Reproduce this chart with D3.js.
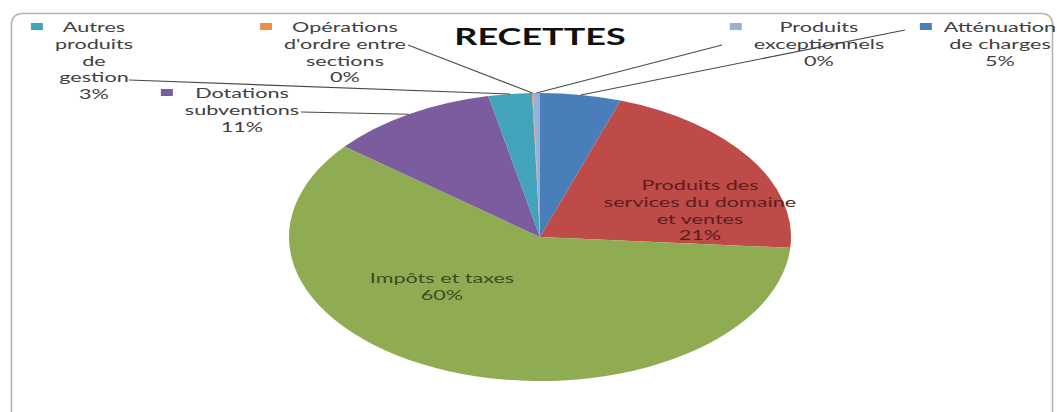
<!DOCTYPE html>
<html>
<head>
<meta charset="utf-8">
<script src="https://cdn.jsdelivr.net/npm/d3@7/dist/d3.min.js"></script>
<style>
  html, body { margin: 0; padding: 0; background: #fff; }
  svg { display: block; }
</style>
</head>
<body>
<svg id="chart" width="1057" height="412"></svg>
<script>
// ---- data ----
const title = "RECETTES";
const categories = [
  "Atténuation de charges",
  "Produits des services du domaine et ventes",
  "Impôts et taxes",
  "Dotations subventions",
  "Autres produits de gestion",
  "Opérations d'ordre entre sections",
  "Produits exceptionnels"
];
const values = [5.2, 21.0, 59.6, 10.9, 2.8, 0.05, 0.45];
const colors = ["#4a7ebb", "#be4b48", "#8fac52", "#7b5c9f", "#43a3bb", "#f08f43", "#94b2d8"];

// ---- layout (positions / styles only) ----
const W = 1057, H = 412;
const cx = 540, cy = 237, rx = 251, ry = 144;
const sx = 1.6;          // horizontal text stretch of the original image
const lineH = 16.7;
const layout = [
  { cx: 1000, y0: 27, breaks: [1, 2], legend: true, lead: [905, 30], fill: "#404040" },
  { cx: 700, y0: 185, breaks: [2, 3, 2], legend: false, lead: null, fill: "#5a1e1c" },
  { cx: 442, y0: 278, breaks: [3], legend: false, lead: null, fill: "#3a4d20" },
  { cx: 242, y0: 93, breaks: [1, 1], legend: true, lead: [301, 112], fill: "#404040" },
  { cx: 94, y0: 27, breaks: [1, 1, 1, 1], legend: true, lead: [129, 80], fill: "#404040" },
  { cx: 345, y0: 27, breaks: [1, 2, 1], legend: true, lead: [408, 45], fill: "#404040" },
  { cx: 819, y0: 27, breaks: [1, 1], legend: true, lead: [722, 45], fill: "#404040" }
];

const svg = d3.select("#chart");

// frame
svg.append("rect")
  .attr("x", 11.5).attr("y", 13.5)
  .attr("width", 1041).attr("height", 410)
  .attr("rx", 10).attr("ry", 10)
  .attr("fill", "#fff")
  .attr("stroke", "#b4b4b4")
  .attr("stroke-width", 1.6);

const total = d3.sum(values);
const pie = d3.pie().sort(null).value(d => d).startAngle(0).endAngle(2 * Math.PI);
const arcs = pie(values);
const arc = d3.arc().innerRadius(0).outerRadius(ry);

// pie, stretched horizontally into an ellipse
const g = svg.append("g")
  .attr("transform", `translate(${cx},${cy}) scale(${rx / ry},1)`);
g.selectAll("path.slice")
  .data(arcs)
  .join("path")
  .attr("class", "slice")
  .attr("d", arc)
  .attr("fill", (d, i) => colors[i]);

// title
svg.append("text")
  .attr("transform", `translate(${cx},45) scale(${sx},1)`)
  .attr("text-anchor", "middle")
  .attr("font-family", "Lato, 'Open Sans', sans-serif")
  .attr("font-weight", "bold")
  .attr("font-size", 22.5)
  .attr("fill", "#111")
  .text(title);

// leader lines: from label to the mid point of the slice's outer edge
arcs.forEach((a, i) => {
  const L = layout[i];
  if (!L.lead) return;
  const mid = (a.startAngle + a.endAngle) / 2;
  const ex = cx + rx * Math.sin(mid);
  const ey = cy - ry * Math.cos(mid);
  svg.append("line")
    .attr("x1", L.lead[0]).attr("y1", L.lead[1])
    .attr("x2", ex).attr("y2", ey)
    .attr("stroke", "#4a4a4a")
    .attr("stroke-width", 1.1);
});

// labels
arcs.forEach((a, i) => {
  const L = layout[i];
  const words = categories[i].split(" ");
  const lines = [];
  let k = 0;
  L.breaks.forEach(n => { lines.push(words.slice(k, k + n).join(" ")); k += n; });
  lines.push(Math.round(values[i] / total * 100) + "%");

  let maxW = 0;
  lines.forEach((t, j) => {
    const txt = svg.append("text")
      .attr("transform", `translate(${L.cx},${L.y0 + j * lineH}) scale(${sx},1)`)
      .attr("text-anchor", "middle")
      .attr("dominant-baseline", "central")
      .attr("font-family", "Lato, 'Open Sans', sans-serif")
      .attr("font-size", 13.5)
      .attr("fill", L.fill)
      .text(t);
    maxW = Math.max(maxW, txt.node().getComputedTextLength() * sx);
  });

  if (L.legend) {
    const left = L.cx - maxW / 2;
    svg.append("rect")
      .attr("x", left - 12 - 12)
      .attr("y", L.y0 - 4)
      .attr("width", 12)
      .attr("height", 7)
      .attr("fill", colors[i]);
  }
});
</script>
</body>
</html>
